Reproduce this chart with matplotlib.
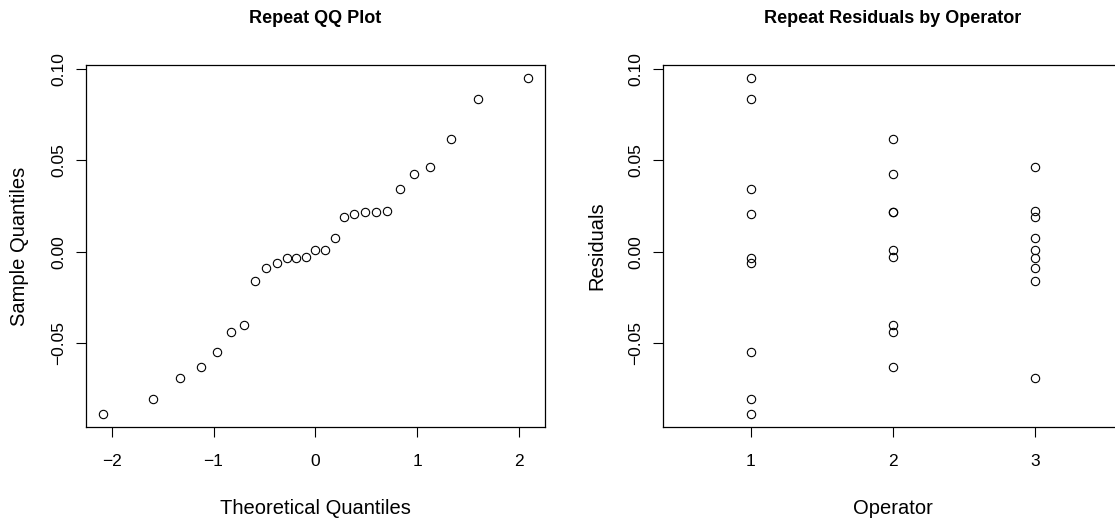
import numpy as np
import matplotlib.pyplot as plt

plt.rcParams['font.family'] = ['Liberation Sans', 'DejaVu Sans']

# Repeatability residuals, nine per operator
operators = [1, 2, 3]
resid_op1 = [0.0947, 0.0834, 0.0344, 0.0204, -0.0031, -0.0060, -0.0548, -0.0801, -0.0885]
resid_op2 = [0.0614, 0.0423, 0.0219, 0.0215, 0.0011, -0.0027, -0.0397, -0.0437, -0.0628]
resid_op3 = [0.0464, 0.0222, 0.0191, 0.0075, 0.0011, -0.0031, -0.0089, -0.0160, -0.0690]

# Normal quantiles for n = 27
theo_q = [-2.085, -1.593, -1.325, -1.128, -0.967, -0.828, -0.704, -0.589, -0.482,
          -0.380, -0.282, -0.187, -0.093, 0.0, 0.093, 0.187, 0.282, 0.380,
          0.482, 0.589, 0.704, 0.828, 0.967, 1.128, 1.325, 1.593, 2.085]

y_ticks = [-0.05, 0.00, 0.05, 0.10]
y_ticklabels = ['\u22120.05', '0.00', '0.05', '0.10']

all_resid = np.concatenate([resid_op1, resid_op2, resid_op3])
sample_q = np.sort(all_resid)

fig = plt.figure(figsize=(11.15, 5.21), dpi=100)
ax1 = fig.add_axes([0.0771, 0.1798, 0.4117, 0.6954])
ax2 = fig.add_axes([0.5944, 0.1798, 0.4128, 0.6954])

pt = dict(ls='none', marker='o', mfc='none', mec='black', ms=6, mew=0.8)

ax1.plot(theo_q, sample_q, **pt)
ax1.margins(x=0.04, y=0.04)
ax1.set_xticks([-2, -1, 0, 1, 2])
ax1.set_xlabel('Theoretical Quantiles')
ax1.set_ylabel('Sample Quantiles')

for op, res in zip(operators, [resid_op1, resid_op2, resid_op3]):
    ax2.plot([op] * len(res), res, **pt)
lo, hi = 0.5, 3.5
ax2.set_xlim(lo - 0.04 * (hi - lo), hi + 0.04 * (hi - lo))
ax2.margins(y=0.04)
ax2.set_xticks(operators)
ax2.set_xlabel('Operator')
ax2.set_ylabel('Residuals')

for ax, title in [(ax1, 'Repeat QQ Plot'), (ax2, 'Repeat Residuals by Operator')]:
    ax.set_yticks(y_ticks)
    ax.set_yticklabels(y_ticklabels)
    for s in ax.spines.values():
        s.set_linewidth(0.9)
    ax.tick_params(axis='both', length=7, width=0.8, labelsize=12.5)
    ax.tick_params(axis='x', pad=12)
    ax.tick_params(axis='y', pad=7)
    for lab in ax.get_yticklabels():
        lab.set_rotation(90)
        lab.set_va('center')
    ax.xaxis.label.set_size(14.5)
    ax.yaxis.label.set_size(14.5)
    ax.xaxis.label.set_va('center')
    ax.yaxis.label.set_va('center')
    ax.xaxis.set_label_coords(0.5, -0.2227)
    ax.yaxis.set_label_coords(-0.1438, 0.5)
    pos = ax.get_position()
    fig.text((pos.x0 + pos.x1) / 2, 0.9654, title, ha='center', va='center',
             fontsize=13, fontweight='bold')

fig.savefig('out.png', dpi=100)
